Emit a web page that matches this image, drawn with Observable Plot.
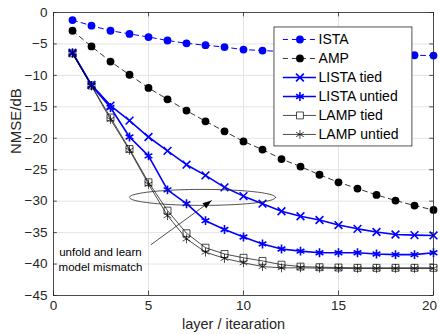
<!DOCTYPE html>
<html>
<head>
<meta charset="utf-8">
<script src="https://cdn.jsdelivr.net/npm/d3@7"></script>
<script src="https://cdn.jsdelivr.net/npm/@observablehq/plot@0.6"></script>
<style>
  html, body { margin: 0; padding: 0; background: #fff; }
  #chart svg { display: block; }
</style>
</head>
<body>
<div id="chart"></div>
<script>
// ---------- data ----------
const layers = [1,2,3,4,5,6,7,8,9,10,11,12,13,14,15,16,17,18,19,20];
const ista = [-1.2,-2.1,-2.9,-3.4,-3.9,-4.45,-4.9,-5.2,-5.5,-5.9,-6.05,-6.2,-6.35,-6.45,-6.55,-6.6,-6.7,-6.75,-6.8,-6.85];
const amp = [-2.9,-5.4,-7.8,-9.9,-12.0,-13.8,-15.6,-17.3,-18.9,-20.5,-21.8,-23.3,-24.5,-25.8,-27.0,-28.0,-29.0,-29.9,-30.7,-31.4];
const listaTied = [-6.4,-11.5,-14.8,-17.2,-19.8,-22.0,-24.2,-25.9,-27.8,-29.2,-30.4,-31.6,-32.4,-33.0,-33.8,-34.4,-34.9,-35.3,-35.4,-35.45];
const listaUntied = [-6.4,-11.6,-15.1,-19.8,-22.8,-28.2,-30.4,-33.1,-34.5,-35.7,-36.8,-37.6,-37.95,-38.2,-38.2,-38.2,-38.4,-38.5,-38.5,-38.2];
const lampTied = [-6.5,-11.6,-16.7,-21.7,-27.0,-31.5,-35.1,-37.4,-38.4,-39.0,-39.5,-40.1,-40.4,-40.5,-40.55,-40.6,-40.6,-40.6,-40.6,-40.6];
const lampUntied = [-6.5,-11.7,-17.0,-21.9,-27.3,-32.3,-36.0,-38.1,-39.1,-39.8,-40.4,-40.6,-40.6,-40.65,-40.7,-40.7,-40.7,-40.7,-40.7,-40.7];
const seriesNames = ["ISTA","AMP","LISTA tied","LISTA untied","LAMP tied","LAMP untied"];
const xTicks = [0,5,10,15,20];
const yTicks = [0,-5,-10,-15,-20,-25,-30,-35,-40,-45];
const xLabel = "layer / itearation";
const yLabel = "NMSE/dB";
const noteLines = ["unfold and learn","model mismatch"];

// ---------- styles ----------
const FONT = "'Liberation Sans', Arial, Helvetica, sans-serif";
const INK = "#262626";
const BLUE = "#0000ff";
const styles = {
  "ISTA":        {stroke: BLUE,   width: 1.0, dash: "5,4", symbol: "circle",   fill: BLUE,   r: 3.9, mw: 0},
  "AMP":         {stroke: "#000", width: 0.8, dash: "5,4", symbol: "circle",   fill: "#000", r: 3.9, mw: 0},
  "LISTA tied":  {stroke: BLUE,   width: 1.6, dash: null,  symbol: "times",    fill: "none", r: 3.6, mw: 1.6},
  "LISTA untied":{stroke: BLUE,   width: 1.6, dash: null,  symbol: "asterisk", fill: "none", r: 4.2, mw: 1.6},
  "LAMP tied":   {stroke: "#000", width: 0.7, dash: null,  symbol: "square",   fill: "none", r: 3.9, mw: 0.7},
  "LAMP untied": {stroke: "#000", width: 0.7, dash: null,  symbol: "asterisk", fill: "none", r: 4.2, mw: 0.7}
};
const valuesBy = {"ISTA": ista, "AMP": amp, "LISTA tied": listaTied, "LISTA untied": listaUntied, "LAMP tied": lampTied, "LAMP untied": lampUntied};

const rows = seriesNames.map(name => layers.map((x, i) => ({name, x, y: valuesBy[name][i]})));

// ---------- series marks ----------
const seriesMarks = [];
rows.forEach(data => {
  const s = styles[data[0].name];
  seriesMarks.push(Plot.line(data, {x: "x", y: "y", stroke: s.stroke, strokeWidth: s.width, strokeDasharray: s.dash}));
});
rows.forEach(data => {
  const s = styles[data[0].name];
  seriesMarks.push(Plot.dot(data, {x: "x", y: "y", symbol: s.symbol, r: s.r,
    fill: s.fill, stroke: s.fill === "none" ? s.stroke : "none", strokeWidth: s.mw}));
});

// ---------- legend (in data units) ----------
const LG = {x0: 11.63, x1: 18.89, top: -2.38, bottom: -21.3, row0: -4.29, step: -3.02, s0: 12.1, s1: 13.84, m: 12.97, t: 13.95};
const legendRows = seriesNames.map((name, i) => ({name, y: LG.row0 + i * LG.step}));
const legendMarks = [
  Plot.rect([0], {x1: () => LG.x0, x2: () => LG.x1, y1: () => LG.bottom, y2: () => LG.top, fill: "#fff", stroke: INK, strokeWidth: 0.8})
];
legendRows.forEach(d => {
  const s = styles[d.name];
  legendMarks.push(Plot.ruleY([d], {y: "y", x1: () => LG.s0, x2: () => LG.s1, stroke: s.stroke, strokeWidth: s.width, strokeDasharray: s.dash}));
  legendMarks.push(Plot.dot([d], {x: () => LG.m, y: "y", symbol: s.symbol, r: s.r,
    fill: s.fill === "none" ? "#fff" : s.fill, stroke: s.fill === "none" ? s.stroke : "none", strokeWidth: s.mw}));
});
legendMarks.push(Plot.text(legendRows, {x: () => LG.t, y: "y", text: "name", textAnchor: "start", fontSize: 14, fill: "#000", fontFamily: FONT}));

// ---------- annotation ----------
const ELL = {cx: 7.84, cy: -29.4, rx: 3.84, ry: 1.27};
const ellipsePts = d3.range(0, 361, 4).map(a => ({x: ELL.cx + ELL.rx * Math.cos(a * Math.PI / 180), y: ELL.cy + ELL.ry * Math.sin(a * Math.PI / 180)}));
const arrowData = [{x1: 5.14, y1: -36.9, x2: 8.32, y2: -29.9}];
const noteRows = noteLines.map((t, i) => ({t, x: 2.47, y: -38.2 - 2.25 * i}));
const headShape = {
  draw(context, l) {
    context.moveTo(0, -l);
    context.lineTo(-3.2, 0);
    context.lineTo(3.2, 0);
    context.closePath();
  }
};

const annotationMarks = [
  Plot.line(ellipsePts, {x: "x", y: "y", stroke: INK, strokeWidth: 0.8, curve: "linear"}),
  Plot.arrow(arrowData, {x1: "x1", y1: "y1", x2: "x2", y2: "y2", stroke: INK, strokeWidth: 0.8, headLength: 0}),
  Plot.vector(arrowData, {x: "x2", y: "y2", rotate: 54, length: 9, anchor: "end", shape: headShape, fill: "#000", stroke: "none"}),
  Plot.text(noteRows, {x: "x", y: "y", text: "t", fontSize: 11.5, fill: "#000", fontFamily: FONT})
];

// ---------- inner ticks (MATLAB style) ----------
const tickMarks = [
  Plot.ruleX(xTicks, {x: d => d, y1: () => -45, y2: () => -44.3, stroke: INK, strokeWidth: 0.8}),
  Plot.ruleX(xTicks, {x: d => d, y1: () => 0, y2: () => -0.7, stroke: INK, strokeWidth: 0.8}),
  Plot.ruleY(yTicks, {y: d => d, x1: () => 0, x2: () => 0.2, stroke: INK, strokeWidth: 0.8}),
  Plot.ruleY(yTicks, {y: d => d, x1: () => 20, x2: () => 19.8, stroke: INK, strokeWidth: 0.8})
];

// ---------- chart ----------
const chart = Plot.plot({
  width: 439,
  height: 334,
  marginLeft: 53,
  marginRight: 6,
  marginTop: 12,
  marginBottom: 39,
  style: {fontFamily: FONT, fontSize: "13.5px", color: INK, background: "#fff", overflow: "visible"},
  x: {domain: [0, 20]},
  y: {domain: [-45, 0]},
  marks: [
    Plot.gridX(xTicks, {stroke: "#e3e3e3", strokeOpacity: 1}),
    Plot.gridY(yTicks, {stroke: "#e3e3e3", strokeOpacity: 1}),
    ...seriesMarks,
    ...annotationMarks,
    ...tickMarks,
    ...legendMarks,
    Plot.axisX(xTicks.slice(0, -1), {anchor: "bottom", tickSize: 0, tickPadding: 5, label: null, fill: INK}),
    Plot.axisX(xTicks.slice(-1), {anchor: "bottom", tickSize: 0, tickPadding: 5, label: null, fill: INK, dx: -4}),
    Plot.axisY(yTicks, {anchor: "left", tickSize: 0, tickPadding: 6, label: null, fill: INK}),
    Plot.frame({stroke: INK, strokeWidth: 0.8}),
    Plot.text([xLabel], {frameAnchor: "bottom", text: d => d, dy: 33, dx: -10, fontSize: 14.5, fill: INK, fontFamily: FONT}),
    Plot.text([yLabel], {frameAnchor: "left", text: d => d, dx: -37, rotate: -90, fontSize: 15, fill: INK, fontFamily: FONT})
  ]
});
document.getElementById("chart").append(chart);
</script>
</body>
</html>
